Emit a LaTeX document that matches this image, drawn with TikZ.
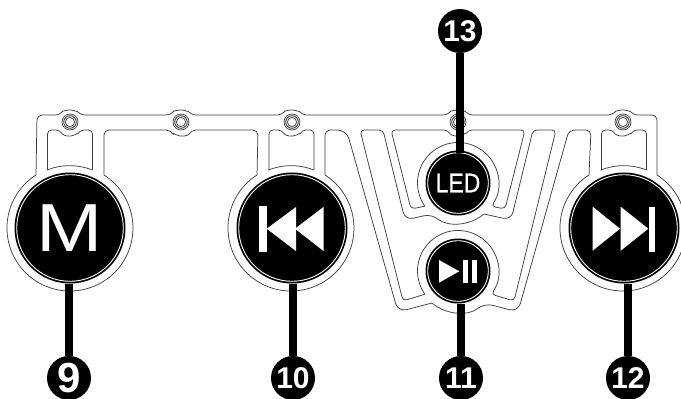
\documentclass[tikz,border=0pt]{standalone}
\usepackage{fontspec}
\setmainfont{Liberation Sans}
\usepackage{graphicx}
\definecolor{linegray}{gray}{0.25}
\tikzset{
  x=1pt,y=-1pt,
  plate/.style={draw=linegray,line width=0.75pt,rounded corners=4pt,line join=round},
  bigbtn/.style={circle,fill=black,draw=none,minimum size=111pt,inner sep=0pt,text=white},
  smallbtn/.style={circle,fill=black,draw=none,minimum size=65pt,inner sep=0pt,text=white},
  ringw/.style={draw=white,line width=0.9pt},
  callout/.style={circle,fill=black,minimum size=44pt,inner sep=0pt,text=white,font=\fontsize{30}{30}\selectfont\bfseries},
  leader/.style={line width=7.5pt,black},
  icon/.style={fill=white,draw=none},
  screwring/.style={draw=linegray,line width=0.7pt},
}
\begin{document}
\begin{tikzpicture}
\useasboundingbox (0,0) rectangle (681,399);
\fill[white] (0,0) rectangle (681,399);
% plate outline
\draw[plate] (104,175) [sharp corners] arc[start angle=-57.3,end angle=237.4,radius=63]
  [rounded corners=5pt] -- (37,115) -- (60,115) arc[start angle=-143,end angle=-37,radius=12.5]
  -- (171,115) arc[start angle=-143,end angle=-37,radius=12.5]
  -- (282,115) arc[start angle=-143,end angle=-37,radius=12.5]
  -- (448,115) arc[start angle=-143,end angle=-37,radius=12.5]
  -- (613,115) arc[start angle=-143,end angle=-37,radius=12.5]
  -- (657,115) [sharp corners] -- (657,175)
  arc[start angle=-57.3,end angle=237.4,radius=63]
  [rounded corners=5pt] -- (591,130) -- (569,130) [rounded corners=9pt] -- (518,312) -- (484,303)
  [sharp corners] arc[start angle=50,end angle=130,radius=40.5]
  [rounded corners=9pt] -- (398,312) -- (346.5,130) [rounded corners=5pt] -- (325,130) [sharp corners] -- (325,175)
  arc[start angle=-57.3,end angle=237.4,radius=63]
  [rounded corners=5pt] -- (258,130) -- (191,130) arc[start angle=28,end angle=152,radius=11.3]
  -- (104,130) [sharp corners] -- cycle;
% windows above big buttons
\foreach \cx/\sx in {70/70,291.5/292,624/623}{
  \draw[plate] ({\cx-22.5},170) [rounded corners=4pt] -- ({\cx-22.5},130) -- ({\sx-10},130)
    arc[start angle=152,end angle=28,radius=11.3] -- ({\cx+22.5},130) [sharp corners] -- ({\cx+22.5},170)
    arc[start angle=-68.4,end angle=-111.6,radius=62] -- cycle;
}
% window around LED button
\draw[plate] (391,130) -- (448,130) arc[start angle=152,end angle=28,radius=11.3] -- (525,130) -- (505,209) -- (491.2,206.2)
  [sharp corners] arc[start angle=35,end angle=-215,radius=40.5]
  [rounded corners=4pt] -- (411,209) -- cycle;
% strip between LED and play buttons
\draw[plate] (360,130) -- (383,130) [rounded corners=8pt] -- (405,220) -- (431.9,214)
  [sharp corners] arc[start angle=130,end angle=50,radius=40.5]
  [rounded corners=8pt] -- (511,220) [rounded corners=4pt] -- (533,130) -- (556,130) -- (514,301) -- (491.2,294.2)
  [sharp corners] arc[start angle=35,end angle=-215,radius=40.5]
  [rounded corners=4pt] -- (403,301) -- cycle;
% screws
\foreach \sx in {70,181,292,458,623}{
  \draw[screwring] (\sx,122) circle[radius=8];
  \draw[draw=linegray,line width=0.9pt] (\sx,122) circle[radius=6.3];
  \draw[screwring] (\sx,122) circle[radius=4.6];
}
% buttons
\node[bigbtn] (bM) at (70,228) {\fontsize{68}{68}\selectfont\scalebox{1.17}[1]{M}};
\node[bigbtn] (bR) at (292,228) {};
\node[bigbtn] (bF) at (624,228) {};
\node[smallbtn] (bL) at (458,183) {\fontsize{27}{27}\selectfont\addfontfeature{FakeBold=0.7}\scalebox{0.85}[1]{LED}};
\node[smallbtn] (bP) at (458,271) {};
\foreach \cx/\cy in {70/228,292/228,624/228}{\draw[ringw] (\cx,\cy) circle[radius=53.3];}
\foreach \cx/\cy in {458/183,458/271}{\draw[ringw] (\cx,\cy) circle[radius=30.3];}
% icons
\fill[icon] (259.3,206) rectangle (266.7,252);
\fill[icon] (266.7,228.7) -- (296,207) -- (296,251) -- cycle;
\fill[icon] (295,228.7) -- (323.5,207) -- (323.5,251) -- cycle;
\fill[icon] (592.7,206.7) -- (620,228.7) -- (592.7,250.7) -- cycle;
\fill[icon] (620.7,206.7) -- (648.3,228.7) -- (620.7,250.7) -- cycle;
\fill[icon] (649,206.5) rectangle (655.3,251.5);
\fill[icon] (439,260) -- (459.3,271.3) -- (439,282.7) -- cycle;
\fill[icon] (463.3,260) rectangle (468.3,282.7);
\fill[icon] (472,260) rectangle (477.3,282.7);
% callouts
\node[callout,font=\fontsize{42}{42}\selectfont\bfseries] (n9) at (69,378) {9};
\node[callout] (n10) at (293,378) {10};
\node[callout] (n11) at (461,378) {11};
\node[callout] (n12) at (628,378) {12};
\node[callout] (n13) at (460,31) {13};
\coordinate (ledin) at ([yshift=-3pt]bL.north);
\draw[leader] (n9.north) -- (n9 |- bM.south);
\draw[leader] (n10.north) -- (n10 |- bR.south);
\draw[leader] (n11.north) -- (n11 |- bP.south);
\draw[leader] (n12.north) -- (n12 |- bF.south);
\draw[leader] (n13.south) -- (n13 |- ledin);
\end{tikzpicture}
\end{document}
